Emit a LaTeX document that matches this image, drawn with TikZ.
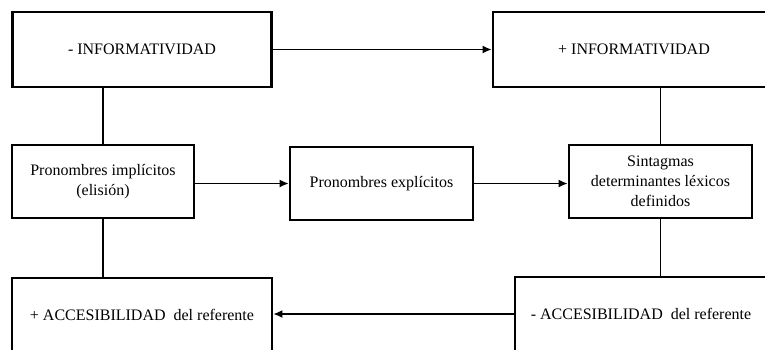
\documentclass[tikz,border=0pt]{standalone}
\usepackage{fontspec}
\setmainfont{Liberation Serif}
\usetikzlibrary{arrows.meta}
\begin{document}
\begin{tikzpicture}[x=1pt,y=-1pt,
  box/.style={draw, line width=2.8pt, rectangle, align=center, inner sep=0pt,
    font=\fontsize{16}{20}\selectfont},
  link/.style={line width=1.3pt},
  arr/.style={line width=1.3pt, -{Latex[length=9pt,width=8pt]}}]
\useasboundingbox (0,0) rectangle (765,349);
\clip (0,0) rectangle (765,349);
\node[box, minimum width=259pt, minimum height=75pt] (A) at (142,49.5) {- INFORMATIVIDAD};
\node[box, minimum width=282pt, minimum height=75pt] (B) at (634,49.5) {+ INFORMATIVIDAD};
\node[box, minimum width=182pt, minimum height=73pt] (C) at (103,181.5) {Pronombres implícitos\\(elisión)};
\node[box, minimum width=183pt, minimum height=73pt] (D) at (381.5,183.5) {Pronombres explícitos};
\node[box, minimum width=183pt, minimum height=73pt] (E) at (660.5,181.5) {Sintagmas\\determinantes léxicos\\definidos};
\node[box, minimum width=260pt, minimum height=74pt] (F) at (142,315) {+ ACCESIBILIDAD\ \ del referente};
\node[box, minimum width=252pt, minimum height=74pt] (G) at (641,314) {- ACCESIBILIDAD\ \ del referente};
\draw[link] (C.north) -- (C.north |- A.south);
\draw[link] (E.north) -- (E.north |- B.south);
\draw[link] (C.south) -- (C.south |- F.north);
\draw[link] (E.south) -- (E.south |- G.north);
\draw[arr] (A.east) -- (B.west);
\draw[arr] (D.west -| C.east) -- (D.west);
\draw[arr] (D.east) -- (D.east -| E.west);
\draw[arr] (G.west) -- (G.west -| F.east);
\end{tikzpicture}
\end{document}
